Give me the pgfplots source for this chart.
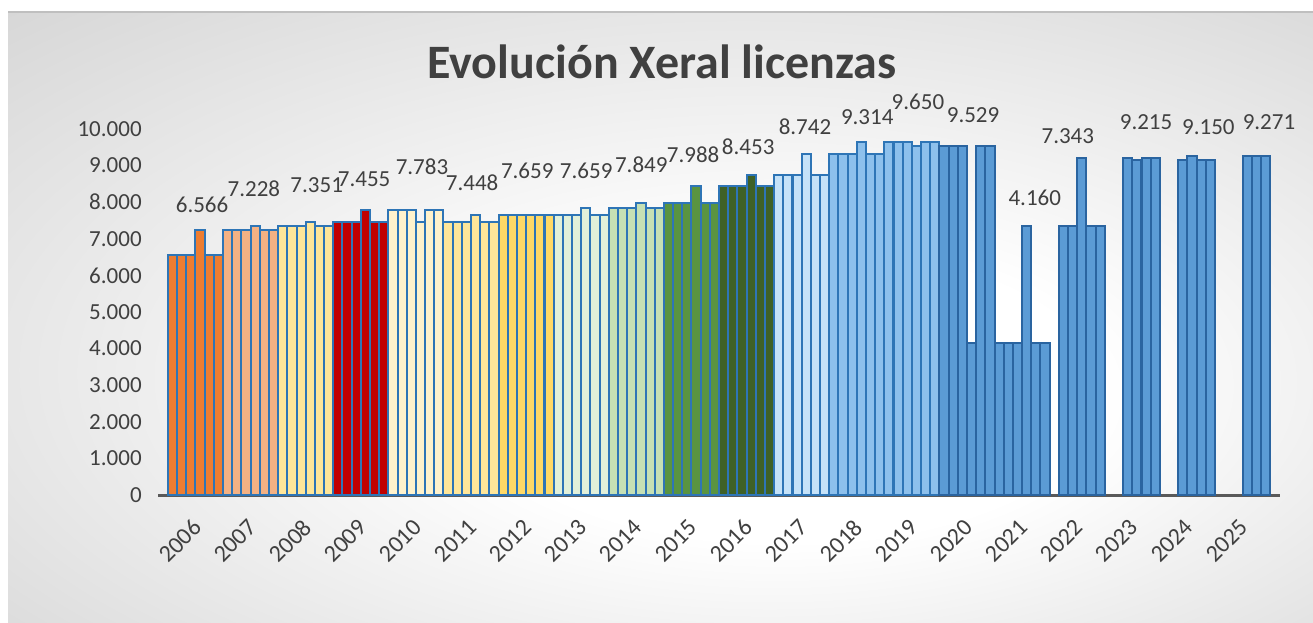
\documentclass[border=0pt]{standalone}
\usepackage{pgfplots}
\pgfplotsset{compat=1.18}
\usepackage{fontspec}
\setmainfont{Carlito}
\definecolor{txt}{HTML}{404040}
\definecolor{edge}{HTML}{2E75B6}
\definecolor{edgeD}{HTML}{2A64A0}
\definecolor{c06}{HTML}{ED7D31}
\definecolor{c07}{HTML}{F4B183}
\definecolor{c08}{HTML}{FFE699}
\definecolor{c09}{HTML}{C00000}
\definecolor{c10}{HTML}{FFF2CC}
\definecolor{c11}{HTML}{FFE699}
\definecolor{c12}{HTML}{FFD966}
\definecolor{c13}{HTML}{E2F0D9}
\definecolor{c14}{HTML}{C5E0B4}
\definecolor{c15}{HTML}{5A9440}
\definecolor{c16}{HTML}{3F6126}
\definecolor{c17}{HTML}{C5E2F8}
\definecolor{c18}{HTML}{8DC0EC}
\definecolor{c20}{HTML}{5B9BD5}
\definecolor{axl}{HTML}{595959}
\pgfdeclareradialshading{bgshade}{\pgfpoint{6bp}{-8bp}}{color(0bp)=(white); color(12bp)=(white); color(48bp)=(black!21); color(60bp)=(black!24)}
\begin{document}
\begin{tikzpicture}
\useasboundingbox (0,0) rectangle (656.5pt,311pt);
\fill[white] (0,0) rectangle (656.5pt,311pt);
\shade[shading=bgshade] (4pt,0) rectangle (656.5pt,305pt);
\draw[black!25, line width=0.6pt] (4pt,305pt) -- (656.5pt,305pt);
\node[font=\bfseries\fontsize{24}{28}\selectfont, text=txt] at (331pt,280pt) {Evolución Xeral licenzas};
\begin{axis}[
  at={(79pt,63.5pt)}, anchor=south west,
  width=561pt, height=183pt, scale only axis,
  xmin=-0.68, xmax=19.68, ymin=0, ymax=10000,
  clip=false,
  axis x line=bottom, axis y line=left,
  x axis line style={draw=axl, line width=1.5pt, -},
  y axis line style={draw=none},
  tick style={draw=none},
  xtick={0,...,19},
  xticklabels={2006,2007,2008,2009,2010,2011,2012,2013,2014,2015,2016,2017,2018,2019,2020,2021,2022,2023,2024,2025},
  xticklabel style={font=\fontsize{12}{14}\selectfont, text=txt, yshift=-9pt, xshift=-2pt, rotate=45, anchor=north east, inner sep=0pt},
  ytick={0,1000,...,10000},
  scaled y ticks=false,
  yticklabel style={font=\fontsize{11.5}{13}\selectfont, text=txt, xshift=-2.5pt, /pgf/number format/.cd, fixed, 1000 sep={.}, assume math mode=true},
  every axis plot/.append style={ybar, bar width=0.1667, bar shift=0pt, line width=1pt, draw=edge},
]
\addplot[fill=c06] coordinates {(-0.417,6566) (-0.25,6566) (-0.083,6566) (0.083,7228) (0.25,6566) (0.417,6566)};
\addplot[fill=c07] coordinates {(0.583,7228) (0.75,7228) (0.917,7228) (1.083,7351) (1.25,7228) (1.417,7228)};
\addplot[fill=c08] coordinates {(1.583,7351) (1.75,7351) (1.917,7351) (2.083,7455) (2.25,7351) (2.417,7351)};
\addplot[fill=c09] coordinates {(2.583,7455) (2.75,7455) (2.917,7455) (3.083,7783) (3.25,7455) (3.417,7455)};
\addplot[fill=c10] coordinates {(3.583,7783) (3.75,7783) (3.917,7783) (4.083,7448) (4.25,7783) (4.417,7783)};
\addplot[fill=c11] coordinates {(4.583,7448) (4.75,7448) (4.917,7448) (5.083,7659) (5.25,7448) (5.417,7448)};
\addplot[fill=c12] coordinates {(5.583,7659) (5.75,7659) (5.917,7659) (6.083,7659) (6.25,7659) (6.417,7659)};
\addplot[fill=c13] coordinates {(6.583,7659) (6.75,7659) (6.917,7659) (7.083,7849) (7.25,7659) (7.417,7659)};
\addplot[fill=c14] coordinates {(7.583,7849) (7.75,7849) (7.917,7849) (8.083,7988) (8.25,7849) (8.417,7849)};
\addplot[fill=c15] coordinates {(8.583,7988) (8.75,7988) (8.917,7988) (9.083,8453) (9.25,7988) (9.417,7988)};
\addplot[fill=c16] coordinates {(9.583,8453) (9.75,8453) (9.917,8453) (10.083,8742) (10.25,8453) (10.417,8453)};
\addplot[fill=c17] coordinates {(10.583,8742) (10.75,8742) (10.917,8742) (11.083,9314) (11.25,8742) (11.417,8742)};
\addplot[fill=c18] coordinates {(11.583,9314) (11.75,9314) (11.917,9314) (12.083,9650) (12.25,9314) (12.417,9314)};
\addplot[fill=c18] coordinates {(12.583,9650) (12.75,9650) (12.917,9650) (13.083,9529) (13.25,9650) (13.417,9650)};
\addplot[fill=c20, draw=edgeD] coordinates {(13.583,9529) (13.75,9529) (13.917,9529) (14.083,4160) (14.25,9529) (14.417,9529)};
\addplot[fill=c20, draw=edgeD] coordinates {(14.583,4160) (14.75,4160) (14.917,4160) (15.083,7343) (15.25,4160) (15.417,4160)};
\addplot[fill=c20, draw=edgeD] coordinates {(15.75,7343) (15.917,7343) (16.083,9215) (16.25,7343) (16.417,7343)};
\addplot[fill=c20, draw=edgeD] coordinates {(16.917,9215) (17.083,9150) (17.25,9215) (17.417,9215)};
\addplot[fill=c20, draw=edgeD] coordinates {(17.917,9150) (18.083,9271) (18.25,9150) (18.417,9150)};
\addplot[fill=c20, draw=edgeD] coordinates {(19.083,9271) (19.25,9271) (19.417,9271)};
\begin{scope}[every node/.style={font=\fontsize{11.5}{13}\selectfont, text=txt}]
\node at (axis cs:0.12,7923) {6.566};
\node at (axis cs:1.06,8361) {7.228};
\node at (axis cs:2.20,8470) {7.351};
\node at (axis cs:3.06,8630) {7.455};
\node at (axis cs:4.11,8962) {7.783};
\node at (axis cs:5.02,8525) {7.448};
\node at (axis cs:6.02,8850) {7.659};
\node at (axis cs:7.09,8850) {7.659};
\node at (axis cs:8.09,9016) {7.849};
\node at (axis cs:9.03,9290) {7.988};
\node at (axis cs:10.03,9508) {8.453};
\node at (axis cs:11.06,10055) {8.742};
\node at (axis cs:12.19,10328) {9.314};
\node at (axis cs:13.11,10738) {9.650};
\node at (axis cs:14.11,10383) {9.529};
\node at (axis cs:15.23,8115) {4.160};
\node at (axis cs:15.83,9809) {7.343};
\node at (axis cs:17.25,10191) {9.215};
\node at (axis cs:18.38,10055) {9.150};
\node at (axis cs:19.48,10191) {9.271};
\end{scope}
\end{axis}
\end{tikzpicture}
\end{document}
